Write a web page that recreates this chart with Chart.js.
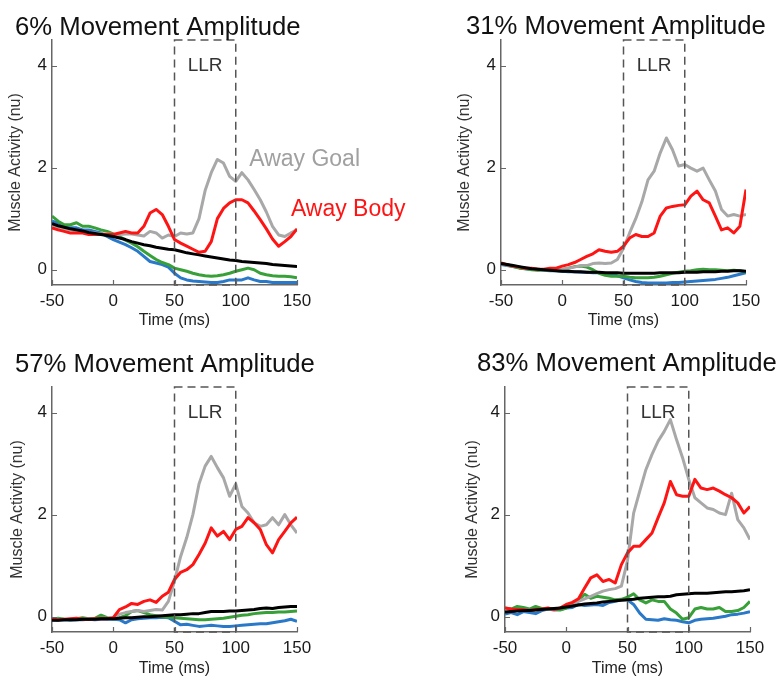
<!DOCTYPE html>
<html>
<head>
<meta charset="utf-8">
<script src="https://cdn.jsdelivr.net/npm/chart.js@4.4.1/dist/chart.umd.min.js"></script>
<style>
  body { margin: 0; background: #fff; }
  #wrap { position: relative; width: 781px; height: 677px; overflow: hidden; }
  canvas { position: absolute; }
</style>
</head>
<body>
<div id="wrap">
  <canvas id="c6" width="420" height="340" style="left:0;top:0"></canvas>
  <canvas id="c31" width="341" height="340" style="left:440px;top:0"></canvas>
  <canvas id="c57" width="420" height="337" style="left:0;top:340px"></canvas>
  <canvas id="c83" width="341" height="337" style="left:440px;top:340px"></canvas>
</div>
<script>
// time axis (ms) and ticks
const time = [-50,-45,-40,-35,-30,-25,-20,-15,-10,-5,0,5,10,15,20,25,30,35,40,45,50,55,60,65,70,75,80,85,90,95,100,105,110,115,120,125,130,135,140,145,150];
const xTicks = [-50, 0, 50, 100, 150];
const yTicks = [0, 2, 4];
const llrWindow = [50, 100];

// 6% movement amplitude
const goal6  = [0.85,0.82,0.80,0.78,0.76,0.75,0.73,0.72,0.70,0.70, 0.69,0.69,0.70,0.70,0.68,0.66,0.75,0.72,0.62,0.68, 0.65,0.72,0.70,0.72,1.00,1.55,1.90,2.16,2.09,1.83, 1.73,1.90,1.76,1.57,1.37,1.13,0.85,0.68,0.65,0.72,0.78];
const body6  = [0.82,0.78,0.75,0.72,0.72,0.72,0.69,0.69,0.69,0.69, 0.69,0.72,0.75,0.72,0.72,0.85,1.11,1.18,1.08,0.85, 0.59,0.52,0.46,0.40,0.34,0.36,0.55,1.00,1.20,1.31, 1.37,1.37,1.31,1.15,0.98,0.80,0.60,0.46,0.55,0.65,0.80];
const green6 = [1.05,0.95,0.88,0.88,0.92,0.85,0.85,0.82,0.78,0.75, 0.70,0.65,0.58,0.52,0.45,0.36,0.28,0.20,0.14,0.10, 0.03,0.00,-0.03,-0.07,-0.10,-0.12,-0.13,-0.12,-0.10,-0.07, -0.03,0.00,0.03,0.00,-0.07,-0.10,-0.12,-0.13,-0.13,-0.14,-0.16];
const blue6  = [0.95,0.92,0.85,0.82,0.82,0.78,0.78,0.75,0.72,0.65, 0.59,0.54,0.49,0.43,0.36,0.26,0.16,0.13,0.10,0.05, -0.07,-0.16,-0.20,-0.22,-0.23,-0.24,-0.25,-0.25,-0.23,-0.20, -0.20,-0.20,-0.16,-0.20,-0.23,-0.23,-0.25,-0.25,-0.25,-0.25,-0.25];
const black6 = [0.90,0.86,0.83,0.80,0.78,0.76,0.73,0.71,0.69,0.67, 0.65,0.62,0.59,0.55,0.52,0.49,0.47,0.44,0.42,0.40, 0.39,0.36,0.33,0.31,0.29,0.27,0.25,0.23,0.21,0.19, 0.18,0.16,0.15,0.14,0.13,0.12,0.10,0.09,0.08,0.07,0.06];

// 31% movement amplitude
const goal31  = [0.12,0.09,0.07,0.05,0.03,0.02,0.01,0.00,0.00,0.00, 0.01,0.03,0.05,0.08,0.08,0.12,0.13,0.12,0.13,0.20, 0.42,0.72,1.00,1.33,1.76,1.93,2.29,2.58,2.35,2.03, 2.06,1.99,1.93,1.99,1.76,1.54,1.18,1.05,1.08,1.05,1.08];
const body31  = [0.13,0.10,0.07,0.05,0.03,0.03,0.01,0.01,0.03,0.03, 0.07,0.10,0.14,0.20,0.26,0.31,0.39,0.36,0.34,0.36, 0.46,0.62,0.69,0.65,0.65,0.72,1.05,1.21,1.24,1.26, 1.27,1.44,1.54,1.37,1.31,1.05,0.78,0.82,0.72,0.85,1.57];
const green31 = [0.12,0.09,0.06,0.03,0.02,0.00,-0.01,0.00,-0.01,0.00, 0.00,0.03,0.06,0.07,0.05,0.00,-0.07,-0.11,-0.13,-0.13, -0.13,-0.15,-0.16,-0.16,-0.16,-0.15,-0.13,-0.10,-0.07,-0.05, -0.03,-0.02,0.00,0.01,0.00,0.00,-0.01,-0.02,-0.01,-0.02,-0.04];
const blue31  = [0.10,0.08,0.06,0.04,0.02,0.01,0.00,-0.01,-0.02,-0.02, -0.03,-0.04,-0.04,-0.05,-0.05,-0.06,-0.06,-0.07,-0.09,-0.12, -0.16,-0.20,-0.23,-0.25,-0.26,-0.26,-0.26,-0.26,-0.25,-0.25, -0.24,-0.23,-0.22,-0.21,-0.20,-0.19,-0.17,-0.15,-0.12,-0.09,-0.06];
const black31 = [0.12,0.10,0.08,0.06,0.04,0.02,0.01,0.00,-0.01,-0.02, -0.03,-0.03,-0.04,-0.04,-0.05,-0.05,-0.05,-0.06,-0.06,-0.06, -0.07,-0.07,-0.07,-0.07,-0.07,-0.07,-0.06,-0.06,-0.06,-0.06, -0.05,-0.05,-0.05,-0.04,-0.04,-0.04,-0.03,-0.03,-0.02,-0.02,-0.03];

// 57% movement amplitude
const goal57  = [-0.05,-0.05,-0.06,-0.05,-0.05,-0.05,-0.04,-0.04,-0.03,-0.03, -0.02,0.05,0.08,0.10,0.12,0.10,0.12,0.14,0.13,0.30, 0.70,1.18,1.55,2.00,2.60,2.95,3.14,2.92,2.72,2.36, 2.60,2.16,2.03,1.84,1.77,1.80,1.94,1.80,2.00,1.80,1.64];
const body57  = [-0.05,-0.06,-0.05,-0.04,-0.03,-0.05,-0.05,-0.04,-0.04,-0.04, -0.02,0.14,0.19,0.26,0.24,0.30,0.33,0.28,0.40,0.48, 0.73,0.87,0.92,1.02,1.22,1.44,1.74,1.58,1.67,1.51, 1.71,1.77,1.94,1.84,1.71,1.41,1.25,1.51,1.67,1.84,1.95];
const green57 = [-0.05,-0.03,-0.05,-0.06,-0.04,-0.02,-0.04,-0.03,0.03,-0.02, -0.04,-0.02,0.02,0.10,0.12,0.08,0.04,0.02,0.00,-0.01, -0.02,-0.03,-0.04,-0.05,-0.06,-0.06,-0.05,-0.04,-0.03,-0.01, 0.01,0.03,0.04,0.06,0.07,0.08,0.08,0.09,0.09,0.10,0.11];
const blue57  = [-0.06,-0.07,-0.06,-0.07,-0.06,-0.06,-0.05,-0.06,-0.05,-0.05, -0.05,-0.06,-0.12,-0.06,-0.04,-0.03,-0.02,-0.02,-0.01,-0.02, -0.09,-0.16,-0.15,-0.17,-0.19,-0.18,-0.17,-0.18,-0.19,-0.19, -0.18,-0.17,-0.16,-0.15,-0.14,-0.14,-0.12,-0.10,-0.08,-0.05,-0.09];
const black57 = [-0.07,-0.07,-0.06,-0.06,-0.06,-0.05,-0.05,-0.05,-0.04,-0.04, -0.04,-0.03,-0.02,-0.02,-0.01,0.00,0.00,0.01,0.02,0.03, 0.04,0.04,0.05,0.06,0.06,0.08,0.10,0.10,0.10,0.11, 0.11,0.12,0.13,0.14,0.16,0.17,0.16,0.18,0.19,0.20,0.20];

// 83% movement amplitude
const goal83  = [0.16,0.14,0.13,0.13,0.12,0.13,0.14,0.15,0.15,0.17, 0.22,0.26,0.30,0.35,0.40,0.45,0.50,0.53,0.55,0.60, 1.10,2.03,2.46,2.88,3.18,3.44,3.63,3.86,3.47,3.11, 2.69,2.33,2.23,2.13,2.10,2.03,2.00,2.42,1.90,1.74,1.51];
const body83  = [0.17,0.15,0.14,0.14,0.12,0.14,0.15,0.17,0.14,0.17, 0.24,0.28,0.35,0.56,0.76,0.82,0.69,0.73,0.66,1.02, 1.25,1.38,1.38,1.51,1.64,1.94,2.23,2.65,2.39,2.36, 2.36,2.69,2.52,2.49,2.52,2.46,2.39,2.33,2.23,2.03,2.16];
const green83 = [0.17,0.15,0.20,0.18,0.15,0.20,0.16,0.15,0.14,0.13, 0.17,0.25,0.32,0.44,0.36,0.40,0.38,0.36,0.33,0.34, 0.38,0.45,0.33,0.27,0.33,0.30,0.30,0.15,0.07,-0.05, -0.02,0.15,0.18,0.15,0.15,0.18,0.10,0.10,0.12,0.18,0.30];
const blue83  = [0.05,0.08,0.04,0.10,0.08,0.06,0.12,0.15,0.13,0.14, 0.17,0.18,0.24,0.22,0.23,0.24,0.22,0.28,0.30,0.33, 0.33,0.24,0.07,-0.05,-0.06,-0.07,-0.04,-0.06,-0.07,-0.10, -0.12,-0.07,-0.05,-0.04,-0.03,-0.01,0.01,0.04,0.05,0.07,0.10];
const black83 = [0.09,0.10,0.11,0.12,0.12,0.13,0.14,0.15,0.16,0.17, 0.19,0.21,0.23,0.25,0.26,0.27,0.29,0.30,0.31,0.32, 0.33,0.34,0.36,0.37,0.38,0.39,0.39,0.40,0.43,0.44, 0.45,0.46,0.46,0.46,0.47,0.48,0.49,0.49,0.50,0.51,0.53];

const FONT = "'Liberation Sans', Arial, Helvetica, sans-serif";
Chart.defaults.font.family = FONT;

const colors = { black: '#000000', body: '#ff1414', goal: '#a8a8a8', green: '#38a038', blue: '#2a78c8' };

// panel title, drawn left-aligned above the plot
const panelTitle = {
  id: 'panelTitle',
  afterDraw(chart, args, opts) {
    const { ctx } = chart;
    ctx.save();
    ctx.font = `25.7px ${FONT}`;
    ctx.fillStyle = '#111';
    ctx.textAlign = 'left';
    ctx.textBaseline = 'middle';
    ctx.fillText(opts.text, opts.x, opts.y);
    ctx.restore();
  }
};

// draws the dashed LLR window and its label
const llrBox = {
  id: 'llrBox',
  afterDatasetsDraw(chart) {
    const { ctx, chartArea, scales: { x, y } } = chart;
    const x1 = x.getPixelForValue(llrWindow[0]);
    const x2 = x.getPixelForValue(llrWindow[1]);
    ctx.save();
    ctx.setLineDash([8, 5]);
    ctx.strokeStyle = '#555';
    ctx.lineWidth = 1.5;
    ctx.strokeRect(x1, chartArea.top, x2 - x1, chartArea.bottom - chartArea.top);
    ctx.setLineDash([]);
    ctx.fillStyle = '#333';
    ctx.font = `19px ${FONT}`;
    ctx.textAlign = 'center';
    ctx.textBaseline = 'middle';
    ctx.fillText('LLR', x.getPixelForValue((llrWindow[0] + llrWindow[1]) / 2), y.getPixelForValue(4));
    ctx.restore();
  }
};

// small tick marks pointing into the plot
const innerTicks = {
  id: 'innerTicks',
  afterDraw(chart) {
    const { ctx, chartArea, scales: { x, y } } = chart;
    ctx.save();
    ctx.strokeStyle = '#666';
    ctx.lineWidth = 1.2;
    ctx.beginPath();
    yTicks.forEach((v) => {
      const py = Math.round(y.getPixelForValue(v)) + 0.5;
      ctx.moveTo(chartArea.left, py);
      ctx.lineTo(chartArea.left + 5, py);
    });
    xTicks.forEach((v) => {
      const px = Math.round(x.getPixelForValue(v)) + 0.5;
      ctx.moveTo(px, chartArea.bottom);
      ctx.lineTo(px, chartArea.bottom - 5);
    });
    ctx.stroke();
    ctx.restore();
  }
};

// curve labels in the first panel
const curveLabels = {
  id: 'curveLabels',
  afterDatasetsDraw(chart, args, opts) {
    const { ctx, scales: { x, y } } = chart;
    ctx.save();
    ctx.font = `23px ${FONT}`;
    ctx.textAlign = 'left';
    ctx.textBaseline = 'middle';
    opts.items.forEach((it) => {
      ctx.fillStyle = it.color;
      ctx.fillText(it.text, x.getPixelForValue(it.x), y.getPixelForValue(it.y));
    });
    ctx.restore();
  }
};

function series(label, values, color) {
  return {
    label,
    data: values.map((v, i) => ({ x: time[i], y: v })),
    borderColor: color,
    borderWidth: 3,
    pointRadius: 0,
    tension: 0,
    fill: false,
    borderJoinStyle: 'round',
  };
}

function makeChart(id, title, d, box, labels) {
  new Chart(document.getElementById(id), {
    type: 'line',
    data: {
      datasets: [
        series('Black', d.black, colors.black),
        series('Away Body', d.body, colors.body),
        series('Away Goal', d.goal, colors.goal),
        series('Green', d.green, colors.green),
        series('Blue', d.blue, colors.blue),
      ],
    },
    options: {
      responsive: false,
      animation: false,
      layout: { padding: { left: box.padL, right: box.padR, top: box.padT, bottom: 0 } },
      plugins: {
        legend: { display: false },
        tooltip: { enabled: false },
        title: { display: false },
        panelTitle: { text: title, x: box.titleX, y: box.titleY },
        curveLabels: { items: labels || [] },
      },
      scales: {
        x: {
          type: 'linear', min: -50, max: 150,
          afterBuildTicks: (s) => { s.ticks = xTicks.map((v) => ({ value: v })); },
          afterFit: (s) => { s.height = box.xH; },
          grid: { display: false, drawTicks: false },
          border: { color: '#666', width: 1.5 },
          ticks: { color: '#1a1a1a', font: { size: 17 }, padding: 6, maxRotation: 0, autoSkip: false, callback: (v) => String(v) },
          title: { display: true, text: 'Time (ms)', color: '#222', font: { size: 16, lineHeight: 1 }, padding: { top: 0, bottom: box.xTitleBottom } },
        },
        y: {
          type: 'linear', min: -0.3, max: 4.5,
          afterBuildTicks: (s) => { s.ticks = yTicks.map((v) => ({ value: v })); },
          afterFit: (s) => { s.width = box.yW; },
          grid: { display: false, drawTicks: false },
          border: { color: '#666', width: 1.5 },
          ticks: { color: '#1a1a1a', font: { size: 17 }, padding: 5, callback: (v) => String(v) },
          title: { display: true, text: 'Muscle Activity (nu)', color: '#333', font: { size: 16, lineHeight: 1 }, padding: { top: box.yTitlePad, bottom: 0 } },
        },
      },
    },
    plugins: [llrBox, innerTicks, curveLabels, panelTitle],
  });
}

makeChart('c6', '6% Movement Amplitude',
  { goal: goal6, body: body6, green: green6, blue: blue6, black: black6 },
  { padL: 15, padR: 123, padT: 40, yW: 37, titleX: 15, titleY: 28, xH: 55, xTitleBottom: 11, yTitlePad: -7 },
  [{ text: 'Away Goal', color: '#a0a0a0', x: 111, y: 2.16 }, { text: 'Away Body', color: '#ff1414', x: 145, y: 1.18 }]);

makeChart('c31', '31% Movement Amplitude',
  { goal: goal31, body: body31, green: green31, blue: blue31, black: black31 },
  { padL: 26, padR: 35, padT: 40, yW: 35, titleX: 26, titleY: 27, xH: 55, xTitleBottom: 11, yTitlePad: -9 });

makeChart('c57', '57% Movement Amplitude',
  { goal: goal57, body: body57, green: green57, blue: blue57, black: black57 },
  { padL: 15, padR: 123, padT: 47, yW: 37, titleX: 15, titleY: 24.5, xH: 45, xTitleBottom: 0, yTitlePad: -5 });

makeChart('c83', '83% Movement Amplitude',
  { goal: goal83, body: body83, green: green83, blue: blue83, black: black83 },
  { padL: 37, padR: 31, padT: 47, yW: 28, titleX: 37, titleY: 24, xH: 45, xTitleBottom: 0, yTitlePad: -12 });
</script>
</body>
</html>
